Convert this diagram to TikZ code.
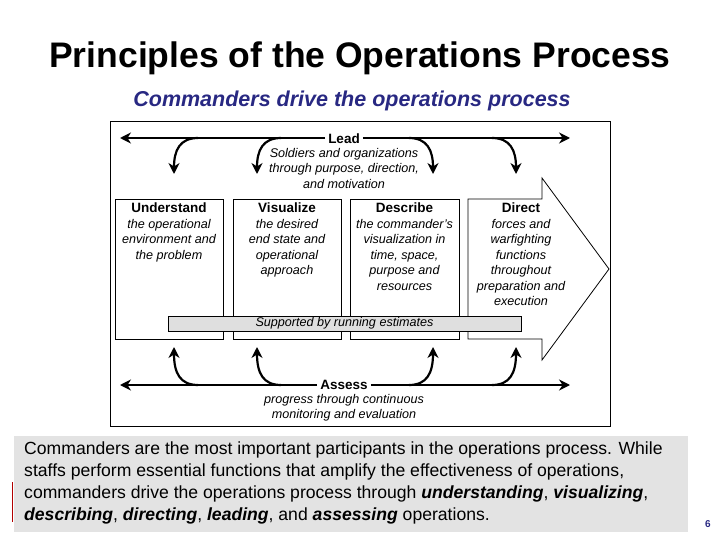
\documentclass[tikz,border=0pt]{standalone}
\usepackage{fontspec}
\setmainfont{Liberation Sans}
\usetikzlibrary{arrows.meta}
\definecolor{navy}{RGB}{40,40,130}
\newcommand{\hd}[1]{{\fontsize{13.5}{15.5}\selectfont\bfseries #1}}
\begin{document}
\begin{tikzpicture}[x=1pt,y=-1pt,
  bx/.style={draw,line width=0.8pt,fill=white},
  big/.style={line width=2.2pt,-{Stealth[length=11pt,width=11pt]}},
  lbl/.style={font=\fontsize{12.6}{15.5}\selectfont,align=center,anchor=north,inner sep=0pt}]
\useasboundingbox (0,0) rectangle (720,540);
\node[font=\fontsize{35.5}{38}\selectfont\bfseries] (title) at (360,58) {Principles of the Operations Process};
\node[font=\fontsize{21.5}{24}\selectfont\bfseries\itshape,text=navy] (sub) at (352,101) {Commanders drive the operations process};
\draw[line width=1pt] (110,122) rectangle (610,426);
% boxes
\draw[bx] (115,199) rectangle (223,339);
\draw[bx] (233,199) rectangle (341,339);
\draw[bx] (350,199) rectangle (459,339);
\draw[bx] (468,199) -- (542,199) -- (542,178) -- (609,269) -- (542,360) -- (542,339) -- (468,339) -- cycle;
\node[lbl] (u) at (169,203) {\hd{Understand}\\\itshape the operational\\\itshape environment and\\\itshape the problem};
\node[lbl] (v) at (287,203) {\hd{Visualize}\\\itshape the desired\\\itshape end state and\\\itshape operational\\\itshape approach};
\node[lbl] (d) at (404.5,203) {\hd{Describe}\\\itshape the commander’s\\\itshape visualization in\\\itshape time, space,\\\itshape purpose and\\\itshape resources};
\node[lbl] (r) at (521,203) {\hd{Direct}\\\itshape forces and\\\itshape warfighting\\\itshape functions\\\itshape throughout\\\itshape preparation and\\\itshape execution};
\node[draw,fill=gray!25,minimum width=353pt,minimum height=15pt,inner sep=0pt,font=\fontsize{12.6}{12}\selectfont\itshape] (est) at (344.5,323.5) {Supported by running estimates};
% Lead
\node[font=\fontsize{13.5}{14}\selectfont\bfseries,inner sep=3pt] (lead) at (344,139) {Lead};
\node[lbl] (leadt) at (344,148) {\itshape Soldiers and organizations\\\itshape through purpose, direction,\\\itshape and motivation};
\coordinate (lL) at (120,138); \coordinate (lR) at (570,138);
\draw[big] (lead.west|-lL) -- (lL);
\draw[big] (lead.east|-lR) -- (lR);
\draw[big] (198,138) .. controls (180,138) and (174,150) .. (174,174);
\draw[big] (281,138) .. controls (263,138) and (257,150) .. (257,174);
\draw[big] (409,138) .. controls (427,138) and (433,150) .. (433,174);
\draw[big] (492,138) .. controls (510,138) and (516,150) .. (516,174);
% Assess
\node[font=\fontsize{13.5}{14}\selectfont\bfseries,inner sep=3pt] (assess) at (344,385) {Assess};
\node[lbl] (asst) at (344,394) {\itshape progress through continuous\\\itshape monitoring and evaluation};
\coordinate (aL) at (120,385); \coordinate (aR) at (570,385);
\draw[big] (assess.west|-aL) -- (aL);
\draw[big] (assess.east|-aR) -- (aR);
\draw[big] (198,385) .. controls (180,385) and (174,373) .. (174,347);
\draw[big] (281,385) .. controls (263,385) and (257,373) .. (257,347);
\draw[big] (409,385) .. controls (427,385) and (433,373) .. (433,347);
\draw[big] (492,385) .. controls (510,385) and (516,373) .. (516,347);
% bottom
\fill[gray!22] (14,436) rectangle (688,532);
\draw[red!70!black,line width=1pt] (12,482) -- (12,522);
\node[anchor=north west,align=left,font=\fontsize{17.6}{22}\selectfont,inner sep=0pt] (body) at (24,442)
{Commanders are the most important participants in the operations process. While\\
staffs perform essential functions that amplify the effectiveness of operations,\\
commanders drive the operations process through \textbf{\itshape understanding}, \textbf{\itshape visualizing},\\
\textbf{\itshape describing}, \textbf{\itshape directing}, \textbf{\itshape leading}, and \textbf{\itshape assessing} operations.};
\node[text=navy,font=\fontsize{10}{12}\selectfont\bfseries] (pg) at (708,524) {6};
\end{tikzpicture}
\end{document}
